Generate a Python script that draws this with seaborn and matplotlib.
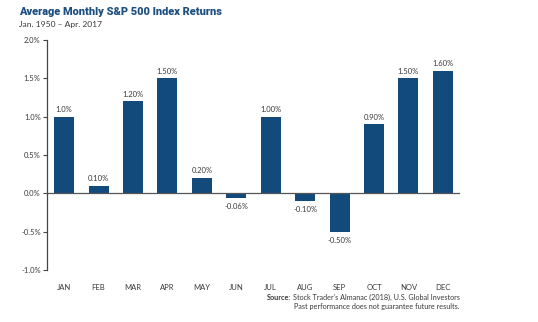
import numpy as np
import pandas as pd
import matplotlib
matplotlib.use("Agg")
import matplotlib.pyplot as plt
import seaborn as sns

months = ["JAN", "FEB", "MAR", "APR", "MAY", "JUN",
          "JUL", "AUG", "SEP", "OCT", "NOV", "DEC"]
returns = [1.0, 0.10, 1.20, 1.50, 0.20, -0.06, 1.00, -0.10, -0.50, 0.90, 1.50, 1.60]
value_labels = ["1.0%", "0.10%", "1.20%", "1.50%", "0.20%", "-0.06%",
                "1.00%", "-0.10%", "-0.50%", "0.90%", "1.50%", "1.60%"]
y_ticks = [-1.0, -0.5, 0.0, 0.5, 1.0, 1.5, 2.0]

bar_color = "#124a7c"
title_color = "#1d4f80"
text_color = "#3a3a3a"

sns.set_style("white")
plt.rcParams["font.family"] = ["Lato", "DejaVu Sans"]

df = pd.DataFrame({"month": months, "ret": returns})

W, H = 538, 322
fig = plt.figure(figsize=(W / 100, H / 100), dpi=100)
ax = fig.add_axes([47 / W, 1 - 270 / H, (460 - 47) / W, (270 - 40) / H])

sns.barplot(data=df, x="month", y="ret", color=bar_color, saturation=1,
            width=0.58, ax=ax, edgecolor="none")

ax.set_xlim(-0.5, 11.5)
ax.set_ylim(-1.0, 2.0)
ax.set_yticks(y_ticks)
ax.set_yticklabels([f"{t:.1f}%" for t in y_ticks], fontsize=5.5, color=text_color)
ax.tick_params(axis="y", direction="out", length=3, width=0.8, color="#444444", pad=1.5, left=True)
ax.tick_params(axis="x", length=0, pad=10, labelsize=5.5, labelcolor=text_color)
ax.set_xlabel("")
ax.set_ylabel("")
for side in ["top", "right", "bottom"]:
    ax.spines[side].set_visible(False)
ax.spines["left"].set_color("#444444")
ax.spines["left"].set_linewidth(0.9)
ax.axhline(0, color="#555555", lw=0.9, zorder=3)

# value labels above positive bars, below negative ones
for i, (v, lab) in enumerate(zip(returns, value_labels)):
    if v >= 0:
        ax.text(i, v + 0.05, lab, ha="center", va="bottom", fontsize=5.5, color=text_color)
    else:
        ax.text(i, v - 0.07, lab, ha="center", va="top", fontsize=5.5, color=text_color)

fig.text(19 / W, 1 - 12 / H, "Average Monthly S&P 500 Index Returns", fontsize=7.9,
         fontweight="heavy", family=["Roboto", "DejaVu Sans"], color=title_color,
         va="center", ha="left")
fig.text(19 / W, 1 - 24.5 / H, "Jan. 1950 \u2013 Apr. 2017", fontsize=6.1,
         color=text_color, va="center", ha="left")

src = fig.text(460 / W, 1 - 297 / H, "Stock Trader's Almanac (2018), U.S. Global Investors",
               fontsize=5.2, color=text_color, ha="right", va="center")
fig.text(460 / W, 1 - 307 / H, "Past performance does not guarantee future results.",
         fontsize=5.2, color=text_color, ha="right", va="center")
renderer = fig.canvas.get_renderer()
bb = src.get_window_extent(renderer)
fig.text((bb.x0 - 2) / W, 1 - 297 / H, "Source:", fontsize=5.2, fontweight="bold",
         color=text_color, ha="right", va="center")

fig.savefig("out.png", dpi=100)
